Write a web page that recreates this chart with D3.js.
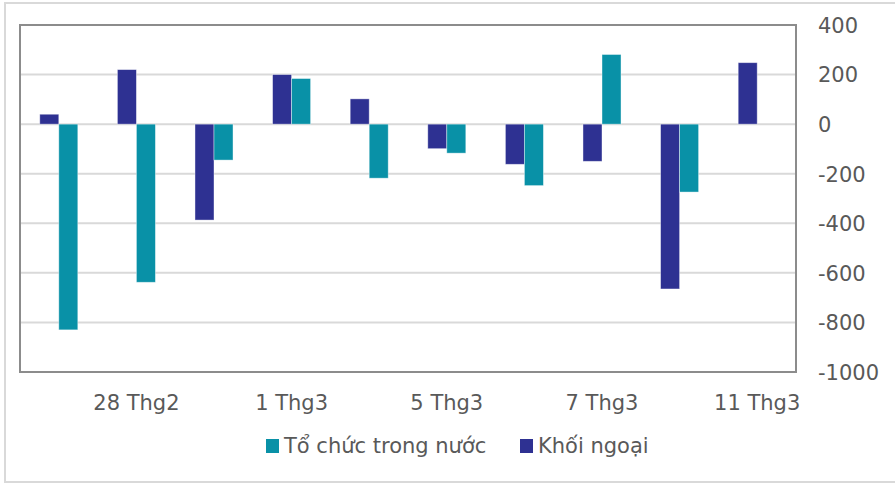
<!DOCTYPE html>
<html>
<head>
<meta charset="utf-8">
<script src="https://cdn.jsdelivr.net/npm/d3@7"></script>
<style>
body { margin: 0; background: #fff; }
text { font-family: "DejaVu Sans", sans-serif; fill: #595959; }
</style>
</head>
<body>
<div id="chart"></div>
<script>
(function() {
"use strict";

// dates (trading days)
var days = ["27 Thg2", "28 Thg2", "29 Thg2", "1 Thg3", "4 Thg3", "5 Thg3", "6 Thg3", "7 Thg3", "8 Thg3", "11 Thg3"];
var shownDays = ["28 Thg2", "1 Thg3", "5 Thg3", "7 Thg3", "11 Thg3"];
// net buy / sell values
var khoiNgoai = [40, 220, -387, 200, 102, -99, -162, -150, -665, 248];
var toChuc = [-830, -638, -145, 184, -218, -117, -248, 281, -274, 0];
var yTicks = [400, 200, 0, -200, -400, -600, -800, -1000];
var seriesNames = ["Khối ngoại", "Tổ chức trong nước"];
var legendOrder = ["Tổ chức trong nước", "Khối ngoại"];

var width = 895, height = 485;
var colour = d3.scaleOrdinal().domain(seriesNames).range(["#2E3192", "#0991A7"]);

var svg = d3.select("#chart").append("svg")
    .attr("width", width)
    .attr("height", height);

// outer chart-area border
svg.append("rect")
    .attr("x", 5).attr("y", 3)
    .attr("width", 900).attr("height", 479)
    .attr("fill", "none")
    .attr("stroke", "#d9d9d9")
    .attr("stroke-width", 2);

var left = 20, right = 796, top = 25, bottom = 372;

var x = d3.scaleBand().domain(days).range([left, right]).padding(0);
var x1 = d3.scaleBand().domain(seriesNames)
    .range([x.bandwidth() * 0.255, x.bandwidth() * 0.745]);
var y = d3.scaleLinear().domain([-1000, 400]).range([bottom, top]);

// gridlines
svg.append("g").selectAll("line")
    .data(yTicks.filter(function(t) { return t > -1000 && t < 400; }))
    .enter().append("line")
    .attr("x1", left).attr("x2", right)
    .attr("y1", function(d) { return y(d); })
    .attr("y2", function(d) { return y(d); })
    .attr("stroke", "#d9d9d9")
    .attr("stroke-width", 2);

// bars
var rows = days.map(function(d, i) {
    return { day: d, vals: [
        { name: "Khối ngoại", v: khoiNgoai[i] },
        { name: "Tổ chức trong nước", v: toChuc[i] }
    ]};
});

var groups = svg.append("g").selectAll("g")
    .data(rows)
    .enter().append("g")
    .attr("transform", function(d) { return "translate(" + x(d.day) + ",0)"; });

groups.selectAll("rect")
    .data(function(d) { return d.vals.filter(function(s) { return s.v !== 0; }); })
    .enter().append("rect")
    .attr("x", function(d) { return x1(d.name); })
    .attr("width", x1.bandwidth())
    .attr("y", function(d) { return y(Math.max(0, d.v)); })
    .attr("height", function(d) { return Math.abs(y(d.v) - y(0)); })
    .attr("fill", function(d) { return colour(d.name); })
    .attr("stroke", "#ffffff")
    .attr("stroke-opacity", 0.5)
    .attr("stroke-width", 0.8);

// plot frame
svg.append("rect")
    .attr("x", left).attr("y", top)
    .attr("width", right - left).attr("height", bottom - top)
    .attr("fill", "none")
    .attr("stroke", "#8c8c8c")
    .attr("stroke-width", 2);

// right y axis (plain hyphen minus, no thousands separator)
var yAxis = svg.append("g")
    .attr("transform", "translate(" + (right + 22) + ",0)")
    .call(d3.axisRight(y).tickValues(yTicks).tickSize(0).tickPadding(0)
        .tickFormat(function(d) { return String(d); }));
yAxis.select(".domain").remove();
yAxis.selectAll("text")
    .style("font-size", "21px")
    .attr("fill", "#595959")
    .attr("dy", "0.35em");

// x axis labels
var xAxis = svg.append("g")
    .attr("transform", "translate(0," + 394 + ")")
    .call(d3.axisBottom(x).tickValues(shownDays).tickSize(0).tickPadding(0));
xAxis.select(".domain").remove();
xAxis.selectAll("text")
    .style("font-size", "21px")
    .attr("fill", "#595959")
    .attr("dy", "0.75em");

// legend
var legendX = [266, 520];
var legend = svg.append("g").selectAll("g")
    .data(legendOrder)
    .enter().append("g")
    .attr("transform", function(d, i) { return "translate(" + legendX[i] + ",446)"; });
legend.append("rect")
    .attr("x", 0).attr("y", -7)
    .attr("width", 13).attr("height", 14)
    .attr("fill", function(d) { return colour(d); });
legend.append("text")
    .attr("x", 18)
    .attr("dy", "0.35em")
    .style("font-size", "21px")
    .text(function(d) { return d; });

})();
</script>
</body>
</html>
